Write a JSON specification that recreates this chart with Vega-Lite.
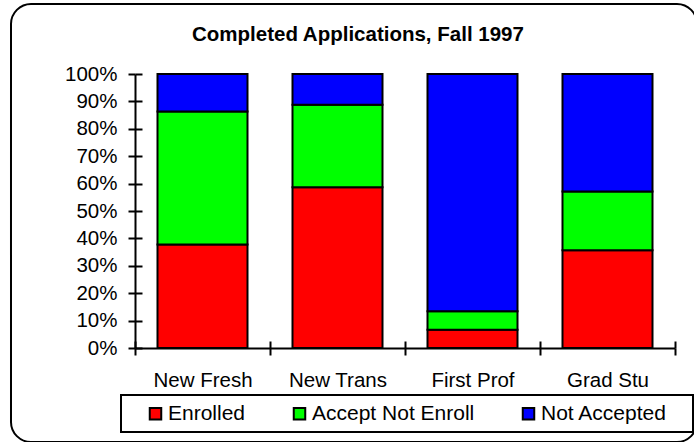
{
  "$schema": "https://vega.github.io/schema/vega-lite/v6.json",
  "width": 686,
  "height": 438,
  "autosize": {"type": "none"},
  "padding": {"left": 11, "top": 4, "right": 0, "bottom": 0},
  "background": "white",
  "title": {
    "text": "Completed Applications, Fall 1997",
    "font": "Liberation Sans",
    "fontSize": 20.5,
    "fontWeight": "bold",
    "color": "black",
    "anchor": "start",
    "frame": "group",
    "baseline": "alphabetic",
    "offset": -57,
    "dx": 181
  },
  "data": {
    "values": [
      {"group": "New Fresh", "status": "Enrolled", "rank": 1, "pct": 37.8},
      {"group": "New Fresh", "status": "Accept Not Enroll", "rank": 2, "pct": 48.5},
      {"group": "New Fresh", "status": "Not Accepted", "rank": 3, "pct": 13.7},
      {"group": "New Trans", "status": "Enrolled", "rank": 1, "pct": 58.7},
      {"group": "New Trans", "status": "Accept Not Enroll", "rank": 2, "pct": 30.1},
      {"group": "New Trans", "status": "Not Accepted", "rank": 3, "pct": 11.2},
      {"group": "First Prof", "status": "Enrolled", "rank": 1, "pct": 6.7},
      {"group": "First Prof", "status": "Accept Not Enroll", "rank": 2, "pct": 6.7},
      {"group": "First Prof", "status": "Not Accepted", "rank": 3, "pct": 86.6},
      {"group": "Grad Stu", "status": "Enrolled", "rank": 1, "pct": 35.7},
      {"group": "Grad Stu", "status": "Accept Not Enroll", "rank": 2, "pct": 21.4},
      {"group": "Grad Stu", "status": "Not Accepted", "rank": 3, "pct": 42.9}
    ]
  },
  "layer": [
    {
      "mark": {"type": "bar", "width": {"band": 0.6667}, "stroke": "black", "strokeWidth": 2},
      "encoding": {
        "x": {
          "field": "group", "type": "nominal",
          "sort": ["New Fresh", "New Trans", "First Prof", "Grad Stu"],
          "scale": {"range": [124, 664], "paddingInner": 0, "paddingOuter": 0},
          "axis": {
            "title": null, "orient": "bottom", "offset": -94, "tickBand": "extent",
            "tickSize": 7, "tickWidth": 2, "tickColor": "black",
            "domainColor": "black", "domainWidth": 2,
            "labelFont": "Liberation Sans", "labelFontSize": 20.5, "labelColor": "black",
            "labelPadding": 15, "labelAngle": 0
          }
        },
        "y": {
          "field": "pct", "type": "quantitative", "stack": "normalize",
          "scale": {"domain": [0, 1], "range": [344, 70], "nice": false, "zero": false},
          "axis": {
            "title": null, "orient": "left", "offset": -124,
            "values": [0, 0.1, 0.2, 0.3, 0.4, 0.5, 0.6, 0.7, 0.8, 0.9, 1],
            "format": ".0%", "grid": false,
            "tickSize": 7, "tickWidth": 2, "tickColor": "black",
            "domainColor": "black", "domainWidth": 2,
            "labelFont": "Liberation Sans", "labelFontSize": 20.5, "labelColor": "black",
            "labelPadding": 11
          }
        },
        "color": {
          "field": "status", "type": "nominal",
          "scale": {"domain": ["Enrolled", "Accept Not Enroll", "Not Accepted"], "range": ["#ff0000", "#00ff00", "#0000ff"]},
          "legend": {
            "orient": "none", "legendX": 110, "legendY": 391, "direction": "horizontal",
            "title": " ", "titleOrient": "right", "titleFontSize": 1, "titlePadding": 18,
            "padding": 8, "strokeColor": "black",
            "symbolType": "square", "symbolSize": 132, "symbolStrokeColor": "black",
            "symbolStrokeWidth": 2, "symbolOpacity": 1, "symbolOffset": 16,
            "labelFont": "Liberation Sans", "labelFontSize": 21, "labelColor": "black",
            "labelOffset": 2, "columnPadding": 27, "labelLimit": 400,
            "encode": {
              "legend": {"update": {"strokeWidth": {"value": 2}}},
              "symbols": {"update": {"stroke": {"value": "black"}, "strokeWidth": {"value": 2}}}
            }
          }
        },
        "order": {"field": "rank", "type": "quantitative"}
      }
    },
    {
      "mark": {"type": "bar", "width": {"band": 0.6667}, "opacity": 0},
      "encoding": {
        "x": {
          "field": "group", "type": "nominal",
          "sort": ["New Fresh", "New Trans", "First Prof", "Grad Stu"],
          "axis": {
            "title": null, "orient": "bottom", "offset": -101, "tickBand": "extent",
            "tickSize": 7, "tickWidth": 2, "tickColor": "black",
            "domain": false, "labels": false
          }
        },
        "y": {
          "field": "pct", "type": "quantitative", "stack": "normalize",
          "axis": {
            "title": null, "orient": "left", "offset": -131,
            "values": [0, 0.1, 0.2, 0.3, 0.4, 0.5, 0.6, 0.7, 0.8, 0.9, 1],
            "grid": false, "tickSize": 7, "tickWidth": 2, "tickColor": "black",
            "domain": false, "labels": false
          }
        }
      }
    }
  ],
  "resolve": {"axis": {"x": "independent", "y": "independent"}},
  "config": {
    "view": {"stroke": "black", "strokeWidth": 2, "cornerRadius": 20}
  }
}
